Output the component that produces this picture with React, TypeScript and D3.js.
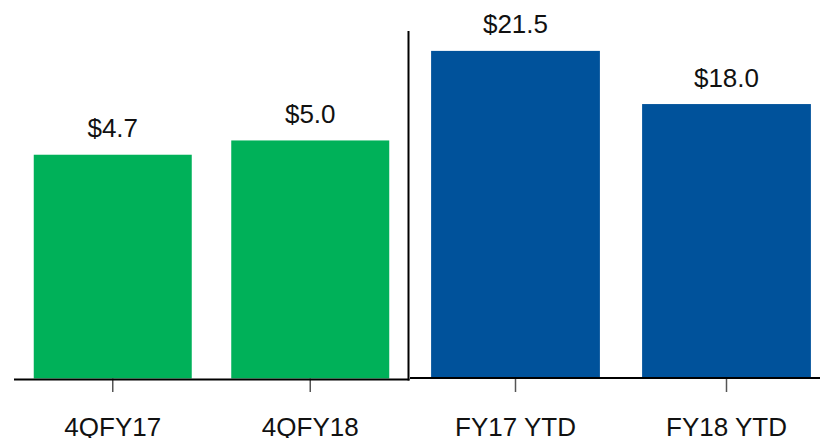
import React from "react";
import * as d3 from "d3";

const leftCategories = ["4QFY17", "4QFY18"];
const leftValues = [4.7, 5.0];
const leftLabels = ["$4.7", "$5.0"];
const rightCategories = ["FY17 YTD", "FY18 YTD"];
const rightValues = [21.5, 18.0];
const rightLabels = ["$21.5", "$18.0"];

const W = 820;
const H = 438;
const GREEN = "#00B159";
const BLUE = "#00529B";
const FONT = "'Liberation Sans', Arial, Helvetica, sans-serif";

export default function App() {
  const leftBase = 378.5;
  const rightBase = 377.5;

  const xL = d3.scaleBand<string>().domain(leftCategories).range([14, 409]).paddingInner(0.2).paddingOuter(0.1);
  const yL = d3.scaleLinear().domain([0, 7.95]).range([leftBase, 0]);
  const xR = d3.scaleBand<string>().domain(rightCategories).range([410, 832]).paddingInner(0.2).paddingOuter(0.1);
  const yR = d3.scaleLinear().domain([0, 24.85]).range([rightBase, 0]);

  const panel = (
    cats: string[],
    vals: number[],
    labels: string[],
    x: d3.ScaleBand<string>,
    y: d3.ScaleLinear<number, number>,
    base: number,
    color: string
  ) =>
    cats.map((c, i) => {
      const cx = (x(c) as number) + x.bandwidth() / 2;
      return (
        <g key={c}>
          <rect x={x(c)} y={y(vals[i])} width={x.bandwidth()} height={base - y(vals[i])} fill={color} />
          <text x={cx} y={y(vals[i]) - 17.5} textAnchor="middle" fontSize={26} fontFamily={FONT} fill="#111">
            {labels[i]}
          </text>
          <line x1={cx} x2={cx} y1={base} y2={392} stroke="#555" strokeWidth={1.5} />
          <text x={cx} y={436} textAnchor="middle" fontSize={26} fontFamily={FONT} fill="#111">
            {c}
          </text>
        </g>
      );
    });

  return (
    <svg width={W} height={H} style={{ position: "absolute", left: 0, top: 0, background: "#fff" }}>
      {panel(leftCategories, leftValues, leftLabels, xL, yL, leftBase, GREEN)}
      {panel(rightCategories, rightValues, rightLabels, xR, yR, rightBase, BLUE)}
      <line x1={14} x2={409.5} y1={leftBase + 1} y2={leftBase + 1} stroke="#000" strokeWidth={2} />
      <line x1={410} x2={W} y1={rightBase + 0.5} y2={rightBase + 0.5} stroke="#000" strokeWidth={2} />
      <line x1={408.5} x2={408.5} y1={31} y2={380.5} stroke="#000" strokeWidth={2} />
    </svg>
  );
}
